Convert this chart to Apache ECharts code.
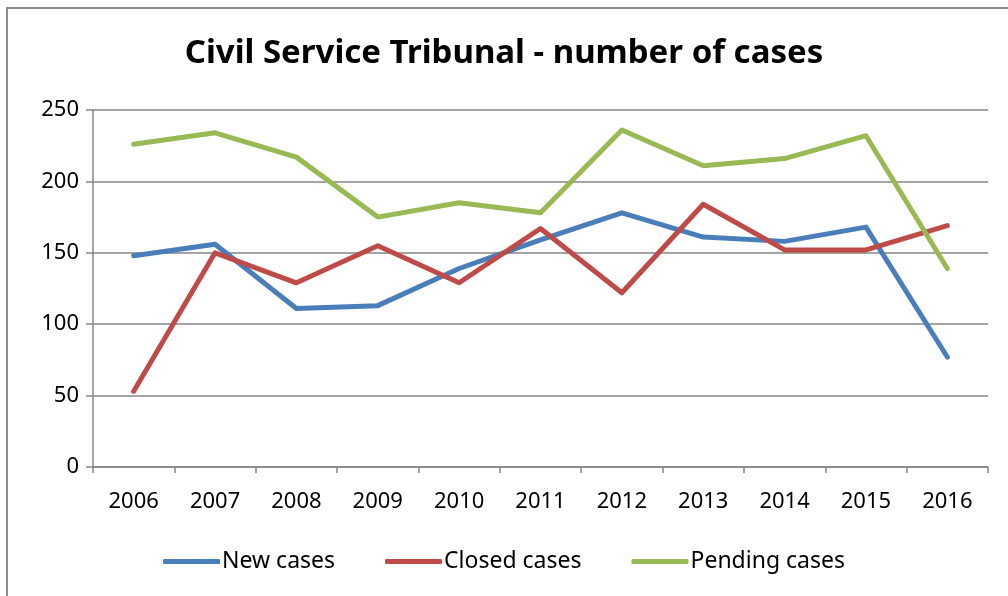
<!DOCTYPE html>
<html>
<head>
<meta charset="utf-8">
<script src="https://cdn.jsdelivr.net/npm/echarts@6/dist/echarts.min.js"></script>
<style>
  html, body { margin: 0; padding: 0; background: #fff; }
  #chart { width: 1008px; height: 596px; }
</style>
</head>
<body>
<div id="chart"></div>
<script>
// data
var years = ['2006', '2007', '2008', '2009', '2010', '2011', '2012', '2013', '2014', '2015', '2016'];
var newCases = [148, 156, 111, 113, 139, 159, 178, 161, 158, 168, 77];
var closedCases = [53, 150, 129, 155, 129, 167, 122, 184, 152, 152, 169];
var pendingCases = [226, 234, 217, 175, 185, 178, 236, 211, 216, 232, 139];

var font = 'Noto Sans';
var gridGray = '#868686';

var chart = echarts.init(document.getElementById('chart'));

var option = {
    backgroundColor: '#fff',
    animation: false,
    title: {
        text: 'Civil Service Tribunal - number of cases',
        left: 'center',
        top: 32,
        textStyle: { fontFamily: font, fontSize: 33, fontWeight: 'bold', color: '#000' }
    },
    // outer chart frame
    graphic: [{
        type: 'rect',
        shape: { x: 7, y: 8, width: 1010, height: 600 },
        style: { fill: null, stroke: '#8a8a8a', lineWidth: 2 },
        silent: true
    }],
    grid: { left: 93, right: 20, top: 110, bottom: 129 },
    legend: {
        bottom: 18,
        left: 'center',
        itemWidth: 57,
        itemHeight: 5,
        itemGap: 50,
        icon: 'roundRect',
        textStyle: { fontFamily: font, fontSize: 23, color: '#000', padding: [0, 0, 0, -3] },
        data: ['New cases', 'Closed cases', 'Pending cases']
    },
    xAxis: {
        type: 'category',
        boundaryGap: true,
        data: years,
        axisLine: { lineStyle: { color: gridGray, width: 1.5 } },
        axisTick: { show: true, length: 6, lineStyle: { color: gridGray, width: 1.5 } },
        axisLabel: { fontFamily: font, fontSize: 22, color: '#000', margin: 24 }
    },
    yAxis: {
        type: 'value',
        min: 0,
        max: 250,
        interval: 50,
        axisLine: { show: true, lineStyle: { color: gridGray, width: 1.5 } },
        axisTick: { show: true, length: 7, lineStyle: { color: gridGray, width: 1.5 } },
        splitLine: { lineStyle: { color: gridGray, width: 1.5 } },
        axisLabel: { fontFamily: font, fontSize: 22, color: '#000', margin: 14 }
    },
    series: [{
        name: 'New cases',
        type: 'line',
        data: newCases,
        symbol: 'none',
        color: '#4a7ebb',
        lineStyle: { width: 5, cap: 'round', join: 'round' }
    }, {
        name: 'Closed cases',
        type: 'line',
        data: closedCases,
        symbol: 'none',
        color: '#be4b48',
        lineStyle: { width: 5, cap: 'round', join: 'round' }
    }, {
        name: 'Pending cases',
        type: 'line',
        data: pendingCases,
        symbol: 'none',
        color: '#98b954',
        lineStyle: { width: 5, cap: 'round', join: 'round' }
    }]
};

chart.setOption(option);
</script>
</body>
</html>
